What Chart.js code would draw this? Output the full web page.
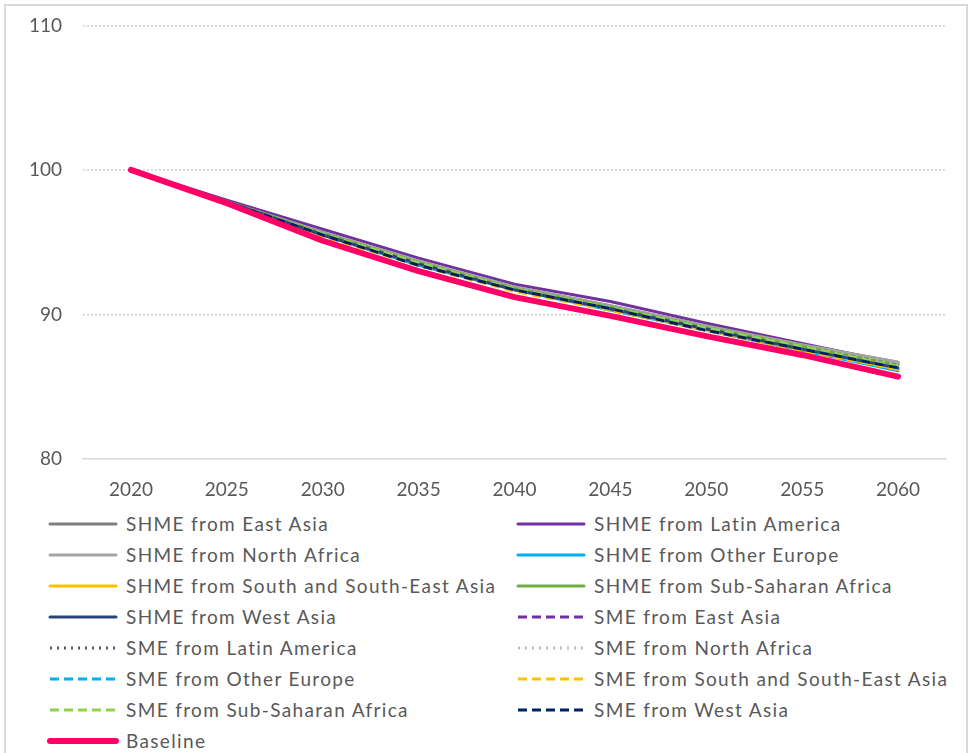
<!DOCTYPE html>
<html>
<head>
<meta charset="utf-8">
<script src="https://cdn.jsdelivr.net/npm/chart.js@4"></script>
<style>
  html, body { margin: 0; padding: 0; background: #fff; }
  #frame {
    position: absolute; left: 4px; top: 4px; width: 964px; height: 760px;
    border: 2px solid #d9d9d9; box-sizing: border-box;
  }
  #wrap { position: absolute; left: 0; top: -7px; width: 974px; height: 512px; }
  #legend {
    position: absolute; left: 47px; top: 508px; width: 920px;
    display: grid; grid-template-columns: 468px 450px;
    font-family: Lato, "Open Sans", sans-serif; font-size: 19px; color: #595959;
    letter-spacing: 1.35px;
  }
  .item { height: 31px; display: flex; align-items: center; white-space: nowrap; }
  .item svg { width: 72px; height: 10px; margin-right: 7px; flex: none; }
</style>
</head>
<body>
<div id="frame"></div>
<div id="wrap"><canvas id="chart" width="974" height="512"></canvas></div>
<div id="legend"></div>
<script>
const years = ["2020", "2025", "2030", "2035", "2040", "2045", "2050", "2055", "2060"];
const y_ticks = [80, 90, 100, 110];

const shme_east_asia = [100, 97.8, 95.6, 93.6, 91.9, 90.6, 89.2, 87.9, 86.7];
const shme_latin_america = [100, 97.9, 95.9, 93.9, 92.1, 90.9, 89.4, 88.0, 86.6];
const shme_north_africa = [100, 97.8, 95.7, 93.7, 91.9, 90.6, 89.2, 87.9, 86.7];
const shme_other_europe = [100, 97.8, 95.5, 93.4, 91.7, 90.3, 88.9, 87.5, 86.1];
const shme_south_asia = [100, 97.8, 95.5, 93.5, 91.7, 90.4, 88.9, 87.6, 86.2];
const shme_sub_saharan = [100, 97.8, 95.6, 93.6, 91.8, 90.5, 89.1, 87.8, 86.5];
const shme_west_asia = [100, 97.8, 95.5, 93.5, 91.7, 90.4, 89.0, 87.6, 86.3];
const sme_east_asia = [100, 97.8, 95.6, 93.6, 91.8, 90.5, 89.1, 87.8, 86.4];
const sme_latin_america = [100, 97.8, 95.5, 93.5, 91.8, 90.4, 89.0, 87.7, 86.3];
const sme_north_africa = [100, 97.8, 95.6, 93.6, 91.8, 90.5, 89.1, 87.8, 86.5];
const sme_other_europe = [100, 97.8, 95.5, 93.4, 91.7, 90.3, 88.9, 87.6, 86.2];
const sme_south_asia = [100, 97.8, 95.4, 93.4, 91.6, 90.3, 88.9, 87.5, 86.2];
const sme_sub_saharan = [100, 97.8, 95.6, 93.6, 91.8, 90.5, 89.1, 87.8, 86.4];
const sme_west_asia = [100, 97.8, 95.5, 93.4, 91.7, 90.4, 88.9, 87.6, 86.3];
const baseline = [100, 97.7, 95.1, 93.0, 91.2, 89.9, 88.5, 87.2, 85.7];

const DASH = [9, 5];
const DOT = [2, 5];

const series = [
  { label: "SHME from East Asia", data: shme_east_asia, color: "#7f7f7f", dash: [] },
  { label: "SHME from Latin America", data: shme_latin_america, color: "#7030a0", dash: [] },
  { label: "SHME from North Africa", data: shme_north_africa, color: "#a5a5a5", dash: [] },
  { label: "SHME from Other Europe", data: shme_other_europe, color: "#00b0f0", dash: [] },
  { label: "SHME from South and South-East Asia", data: shme_south_asia, color: "#ffc000", dash: [] },
  { label: "SHME from Sub-Saharan Africa", data: shme_sub_saharan, color: "#70ad47", dash: [] },
  { label: "SHME from West Asia", data: shme_west_asia, color: "#264478", dash: [] },
  { label: "SME from East Asia", data: sme_east_asia, color: "#7030a0", dash: DASH },
  { label: "SME from Latin America", data: sme_latin_america, color: "#595959", dash: DOT },
  { label: "SME from North Africa", data: sme_north_africa, color: "#bfbfbf", dash: DOT },
  { label: "SME from Other Europe", data: sme_other_europe, color: "#00b0f0", dash: DASH },
  { label: "SME from South and South-East Asia", data: sme_south_asia, color: "#ffc000", dash: DASH },
  { label: "SME from Sub-Saharan Africa", data: sme_sub_saharan, color: "#92d050", dash: DASH },
  { label: "SME from West Asia", data: sme_west_asia, color: "#002060", dash: DASH },
  { label: "Baseline", data: baseline, color: "#ff0066", dash: [], width: 6 },
];

const datasets = series.map((s, i) => ({
  label: s.label,
  data: s.data,
  borderColor: s.color,
  backgroundColor: s.color,
  borderWidth: s.width || 3,
  borderDash: s.dash,
  borderCapStyle: s.dash.length ? "butt" : "round",
  borderJoinStyle: "round",
  pointRadius: 0,
  tension: 0,
  fill: false,
  order: series.length - i, // later series drawn on top, like Excel
}));

new Chart(document.getElementById("chart"), {
  type: "line",
  data: { labels: years, datasets: datasets },
  options: {
    responsive: false,
    animation: false,
    layout: { padding: { left: 0, right: 28, top: 7, bottom: 0 } },
    plugins: { legend: { display: false }, tooltip: { enabled: false } },
    scales: {
      x: {
        offset: true,
        grid: { display: false, drawTicks: false },
        border: { display: true, color: "#d9d9d9", width: 1.5 },
        ticks: { color: "#595959", padding: 19, font: { family: "Lato", size: 19 } },
        afterFit: (s) => { s.height = 46; },
      },
      y: {
        min: 80,
        max: 110,
        afterBuildTicks: (s) => { s.ticks = y_ticks.map((v) => ({ value: v })); },
        grid: {
          drawTicks: false,
          color: (ctx) => (ctx.tick && ctx.tick.value === 80 ? "rgba(0,0,0,0)" : "#d0d0d0"),
          lineWidth: 1.5,
        },
        border: { display: false, dash: [2, 2] },
        ticks: { color: "#595959", padding: 21, font: { family: "Lato", size: 19 } },
        afterFit: (s) => { s.width = 83; },
      },
    },
  },
});

// two-column legend below the plot
const legend = document.getElementById("legend");
series.forEach((s) => {
  const item = document.createElement("div");
  item.className = "item";
  const w = s.width || 3;
  const dash = s.dash.length ? `stroke-dasharray="${s.dash.join(" ")}"` : "";
  const cap = s.dash.length ? "butt" : "round";
  item.innerHTML =
    `<svg viewBox="0 0 72 10"><line x1="3" y1="5" x2="69" y2="5" stroke="${s.color}" stroke-width="${w}" stroke-linecap="${cap}" ${dash}/></svg>` +
    `<span>${s.label}</span>`;
  legend.appendChild(item);
});
</script>
</body>
</html>
